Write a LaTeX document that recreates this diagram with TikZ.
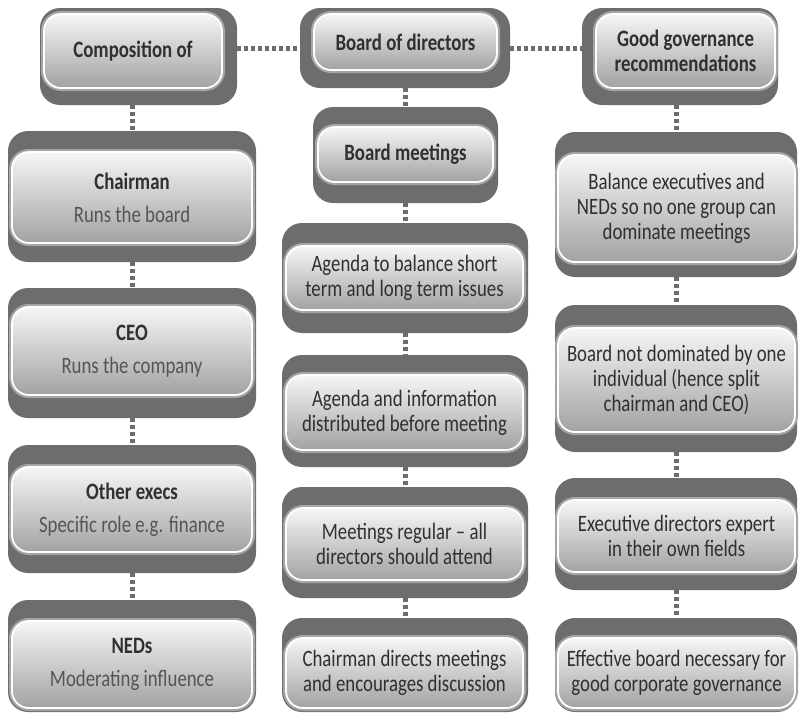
\documentclass[tikz,border=0pt]{standalone}
\usepackage{fontspec}
\setmainfont{Carlito}[FakeStretch=0.8]
\usepackage{tikz}
\usetikzlibrary{positioning,shapes}
\definecolor{plategray}{HTML}{6D6D6D}
\definecolor{bandgray}{HTML}{A5A5A5}
\definecolor{cardtop}{HTML}{F6F6F6}
\definecolor{cardbot}{HTML}{A2A2A2}
\definecolor{inkgray}{HTML}{303030}
\definecolor{subgray}{HTML}{555555}

\begin{document}
\begin{tikzpicture}[
        x=1pt, y=-1pt,
        plate/.style={
                fill=plategray,
                rounded corners=20pt,
                inner sep=0pt
            },
        card/.style={
                top color=cardtop,
                bottom color=cardbot,
                draw=white,
                line width=1.8pt,
                rounded corners=17pt,
                inner sep=0pt,
                align=center,
                text=inkgray,
                font=\fontsize{23.5}{25}\selectfont,
                preaction={draw=bandgray, line width=6pt}
            },
        head/.style={card, font=\fontsize{23.5}{25}\selectfont\bfseries},
        link/.style={draw=plategray, line width=5pt, dash pattern=on 4pt off 3pt},
    ]
    \useasboundingbox (0,0) rectangle (799,713);
    %top row
    \node[plate, minimum width=197pt, minimum height=97pt] (compD) at (138.5,56.5) {};
    \node[head, minimum width=178pt, minimum height=74pt] (comp) at (133,51) {Composition of};
    \node[plate, minimum width=210pt, minimum height=80pt] (bodD) at (405,48) {};
    \node[head, minimum width=183pt, minimum height=56pt] (bod) at (405.5,42) {Board of directors};
    \node[plate, minimum width=196pt, minimum height=97pt] (ggrD) at (680,56.5) {};
    \node[head, minimum width=179pt, minimum height=74pt] (ggr) at (685.5,51) {Good governance\\recommendations};
    %composition
    \node[plate, minimum width=248pt, minimum height=131pt] (chairD) at (132,196.5) {};
    \node[card, minimum width=240pt, minimum height=91pt] (chair) at (132,197.5) {{\bfseries Chairman}\\[8pt]{\color{subgray}Runs the board}};
    \node[plate, minimum width=248pt, minimum height=130pt] (ceoD) at (132,353) {};
    \node[card, minimum width=240pt, minimum height=88pt] (ceo) at (132,351) {{\bfseries CEO}\\[8pt]{\color{subgray}Runs the company}};
    \node[plate, minimum width=248pt, minimum height=128pt] (execD) at (132,509) {};
    \node[card, minimum width=240pt, minimum height=85pt] (exec) at (132,509.5) {{\bfseries Other execs}\\[8pt]{\color{subgray}Specific role e.g. finance}};
    \node[plate, minimum width=248pt, minimum height=112pt] (nedD) at (132,656) {};
    \node[card, minimum width=240pt, minimum height=87pt] (ned) at (132,664.5) {{\bfseries NEDs}\\[8pt]{\color{subgray}Moderating influence}};
    %board meetings
    \node[plate, minimum width=185pt, minimum height=96pt] (meetD) at (405.5,155) {};
    \node[head, minimum width=175pt, minimum height=55pt] (meet) at (405.5,154.5) {Board meetings};
    \node[plate, minimum width=246pt, minimum height=110pt] (agaD) at (405,278) {};
    \node[card, minimum width=237pt, minimum height=64pt] (aga) at (404.5,278) {Agenda to balance short\\term and long term issues};
    \node[plate, minimum width=246pt, minimum height=112pt] (agbD) at (405,411) {};
    \node[card, minimum width=237pt, minimum height=75pt] (agb) at (404.5,412.5) {Agenda and information\\distributed before meeting};
    \node[plate, minimum width=246pt, minimum height=111pt] (regD) at (405,542.5) {};
    \node[card, minimum width=237pt, minimum height=72pt] (reg) at (404.5,544) {Meetings regular -- all\\directors should attend};
    \node[plate, minimum width=246pt, minimum height=94pt] (dirD) at (405,665) {};
    \node[card, minimum width=237pt, minimum height=70pt] (dir) at (404.5,673) {Chairman directs meetings\\and encourages discussion};
    %recommendations
    \node[plate, minimum width=242pt, minimum height=145pt] (balD) at (676,204.5) {};
    \node[card, minimum width=237pt, minimum height=107pt] (bal) at (676.5,208.5) {Balance executives and\\NEDs so no one group can\\dominate meetings};
    \node[plate, minimum width=242pt, minimum height=147pt] (domD) at (676,378.5) {};
    \node[card, minimum width=237pt, minimum height=104pt] (dom) at (676.5,380) {Board not dominated by one\\individual (hence split\\chairman and CEO)};
    \node[plate, minimum width=242pt, minimum height=112pt] (expD) at (676,534) {};
    \node[card, minimum width=237pt, minimum height=72pt] (exp) at (676.5,536) {Executive directors expert\\in their own fields};
    \node[plate, minimum width=242pt, minimum height=94pt] (effD) at (676,665) {};
    \node[card, minimum width=237pt, minimum height=70pt] (eff) at (676.5,673) {Effective board necessary for\\good corporate governance};
    %links
    \draw[link] (compD.east |- bodD.center) -- (bodD.west);
    \draw[link] (bodD.east) -- (ggrD.west |- bodD.center);
    \draw[link] (compD.south -| chairD.north) -- (chairD.north);
    \draw[link] (chairD.south) -- (ceoD.north);
    \draw[link] (ceoD.south) -- (execD.north);
    \draw[link] (execD.south) -- (nedD.north);
    \draw[link] (bodD.south -| meetD.north) -- (meetD.north);
    \draw[link] (meetD.south -| agaD.north) -- (agaD.north);
    \draw[link] (agaD.south) -- (agbD.north);
    \draw[link] (agbD.south) -- (regD.north);
    \draw[link] (regD.south) -- (dirD.north);
    \draw[link] (ggrD.south -| balD.north) -- (balD.north);
    \draw[link] (balD.south) -- (domD.north);
    \draw[link] (domD.south) -- (expD.north);
    \draw[link] (expD.south) -- (effD.north);
\end{tikzpicture}
\end{document}
